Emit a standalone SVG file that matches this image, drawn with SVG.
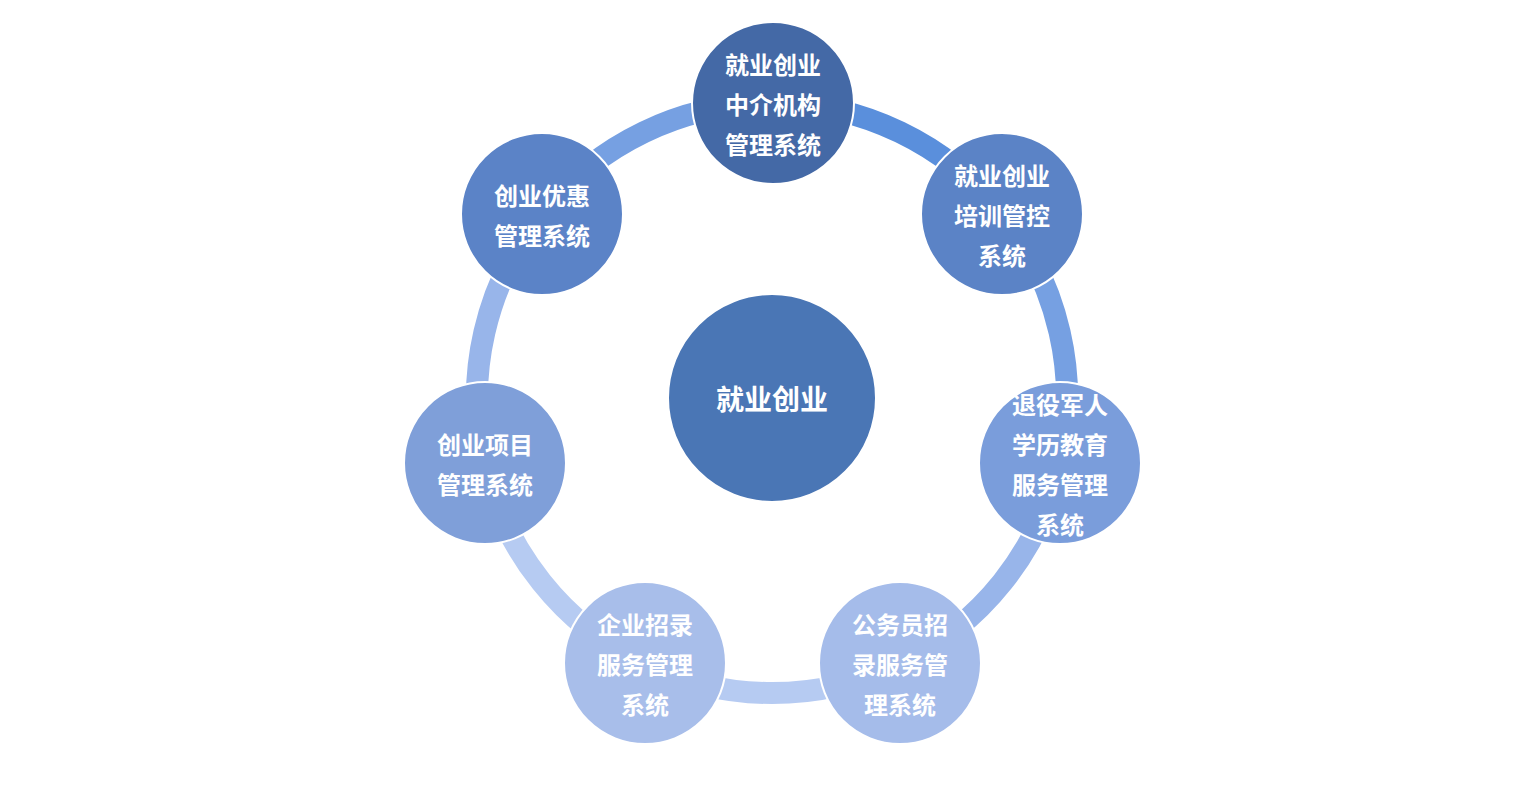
<svg xmlns="http://www.w3.org/2000/svg" width="1537" height="789" viewBox="0 0 1537 789">
<style>
.t{font-family:"Noto Sans CJK SC","Noto Sans",sans-serif;font-weight:bold;font-size:24px;fill:#fff;text-anchor:middle;dominant-baseline:central}
.n{stroke:#fff;stroke-width:2}
.a{fill:none;stroke-width:22}
</style>
<rect width="1537" height="789" fill="#fff"/>
<g id="connectors">
<path class="a" stroke="#5a8fdc" d="M772,103 A295,295 0 0 1 1002.5,213.9"/>
<path class="a" stroke="#76a0e2" d="M1002.5,213.9 A295,295 0 0 1 1059.6,463.8"/>
<path class="a" stroke="#98b5ea" d="M1059.6,463.8 A295,295 0 0 1 900,663.8"/>
<path class="a" stroke="#b6cbf2" d="M900,663.8 A295,295 0 0 1 644,663.8"/>
<path class="a" stroke="#b6cbf2" d="M644,663.8 A295,295 0 0 1 484.4,463.8"/>
<path class="a" stroke="#98b5ea" d="M484.4,463.8 A295,295 0 0 1 541.5,213.9"/>
<path class="a" stroke="#76a0e2" d="M541.5,213.9 A295,295 0 0 1 772,103"/>
</g>
<g id="center"><circle class="n" cx="772" cy="398" r="104" fill="#4a76b5"/><text class="t" x="772" y="398" font-size="28" style="font-size:28px">就业创业</text></g>
<g id="n1"><circle class="n" cx="773" cy="103" r="81" fill="#4469a6"/><text class="t" x="773" y="63">就业创业</text><text class="t" x="773" y="103">中介机构</text><text class="t" x="773" y="143">管理系统</text></g>
<g id="n2"><circle class="n" cx="1002" cy="214" r="81" fill="#5b83c6"/><text class="t" x="1002" y="174">就业创业</text><text class="t" x="1002" y="214">培训管控</text><text class="t" x="1002" y="254">系统</text></g>
<g id="n3"><circle class="n" cx="1060" cy="463" r="81" fill="#7a9ddb"/><text class="t" x="1060" y="403">退役军人</text><text class="t" x="1060" y="443">学历教育</text><text class="t" x="1060" y="483">服务管理</text><text class="t" x="1060" y="523">系统</text></g>
<g id="n4"><circle class="n" cx="900" cy="663" r="81" fill="#a5bcea"/><text class="t" x="900" y="623">公务员招</text><text class="t" x="900" y="663">录服务管</text><text class="t" x="900" y="703">理系统</text></g>
<g id="n5"><circle class="n" cx="645" cy="663" r="81" fill="#a8beea"/><text class="t" x="645" y="623">企业招录</text><text class="t" x="645" y="663">服务管理</text><text class="t" x="645" y="703">系统</text></g>
<g id="n6"><circle class="n" cx="485" cy="463" r="81" fill="#7f9fd9"/><text class="t" x="485" y="443">创业项目</text><text class="t" x="485" y="483">管理系统</text></g>
<g id="n7"><circle class="n" cx="542" cy="214" r="81" fill="#5b83c7"/><text class="t" x="542" y="194">创业优惠</text><text class="t" x="542" y="234">管理系统</text></g>
</svg>
